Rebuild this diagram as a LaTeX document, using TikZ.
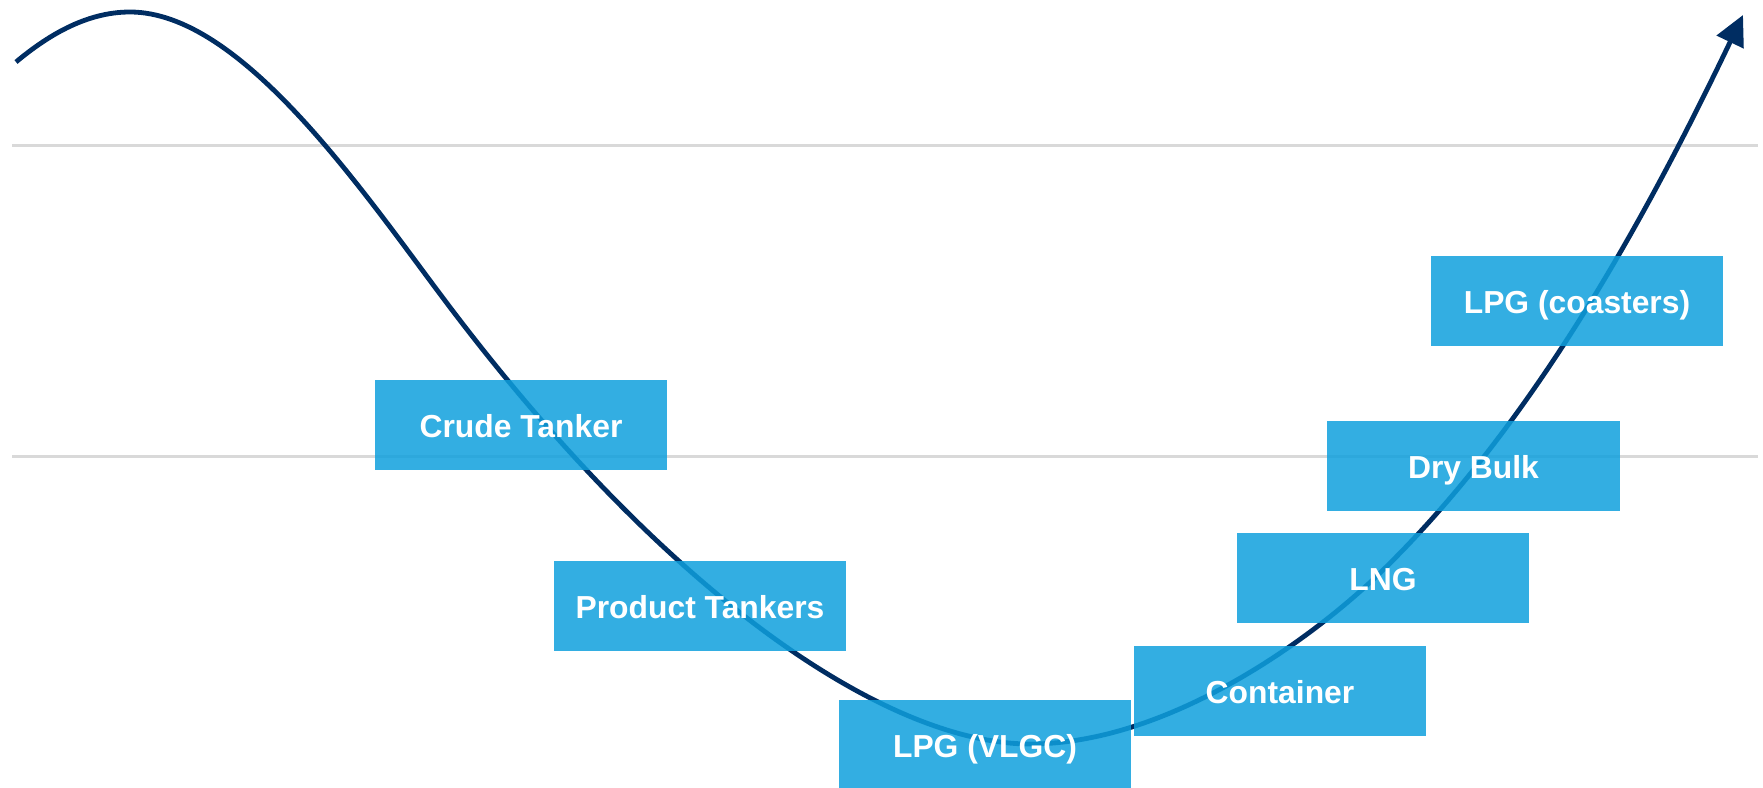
\documentclass[tikz,border=0pt]{standalone}
\usepackage{fontspec}
\setmainfont{Liberation Sans}
\usetikzlibrary{arrows.meta}
\definecolor{navy}{RGB}{0,45,98}
\definecolor{boxblue}{RGB}{15,160,221}
\definecolor{gridgray}{RGB}{217,217,217}
\tikzset{
  segbox/.style={fill=boxblue, fill opacity=0.85, text opacity=1, text=white,
    minimum width=2.92cm, minimum height=0.90cm, inner sep=0pt,
    text height=0.24cm, text depth=0cm,
    font=\fontsize{9.05}{10}\selectfont\bfseries},
  gridline/.style={draw=gridgray, line width=0.025cm},
  cycle/.style={draw=navy, line width=0.048cm,
    -{Triangle[length=0.30cm,width=0.29cm]}}
}
\begin{document}
\begin{tikzpicture}[x=0.01cm, y=-0.01cm]
  \useasboundingbox (0,0) rectangle (1763,788);
  \clip (0,0) rectangle (1763,788);
  % horizontal guide lines
  \draw[gridline] (12,145.5) -- (1758,145.5);
  \draw[gridline] (12,456.5) -- (1758,456.5);
  % cycle curve: peak, long descent, trough, rising arm
  \coordinate (start) at (16,62);
  \coordinate (peak) at (130,12);
  \coordinate (fall) at (443,298);
  \coordinate (trough) at (1030,744);
  \coordinate (rise) at (1380,573);
  \coordinate (tip) at (1743,15);
  \draw[cycle] (start)
    .. controls (46,37) and (85,12) .. (peak)
    .. controls (240,12) and (359,186) .. (fall)
    .. controls (671,602) and (890,744) .. (trough)
    .. controls (1170,744) and (1315,636) .. (rise)
    .. controls (1523.6,433.8) and (1635.5,240) .. (tip);
  % segment boxes
  \node[segbox] (crude) at (521,425) {Crude Tanker};
  \node[segbox] (product) at (700,606) {Product Tankers};
  \node[segbox] (vlgc) at (985,745.5) {LPG (VLGC)};
  \node[segbox] (container) at (1280,691) {Container};
  \node[segbox] (lng) at (1383,578) {LNG};
  \node[segbox] (drybulk) at (1473.5,466) {Dry Bulk};
  \node[segbox] (coasters) at (1577,301) {LPG (coasters)};
\end{tikzpicture}
\end{document}
